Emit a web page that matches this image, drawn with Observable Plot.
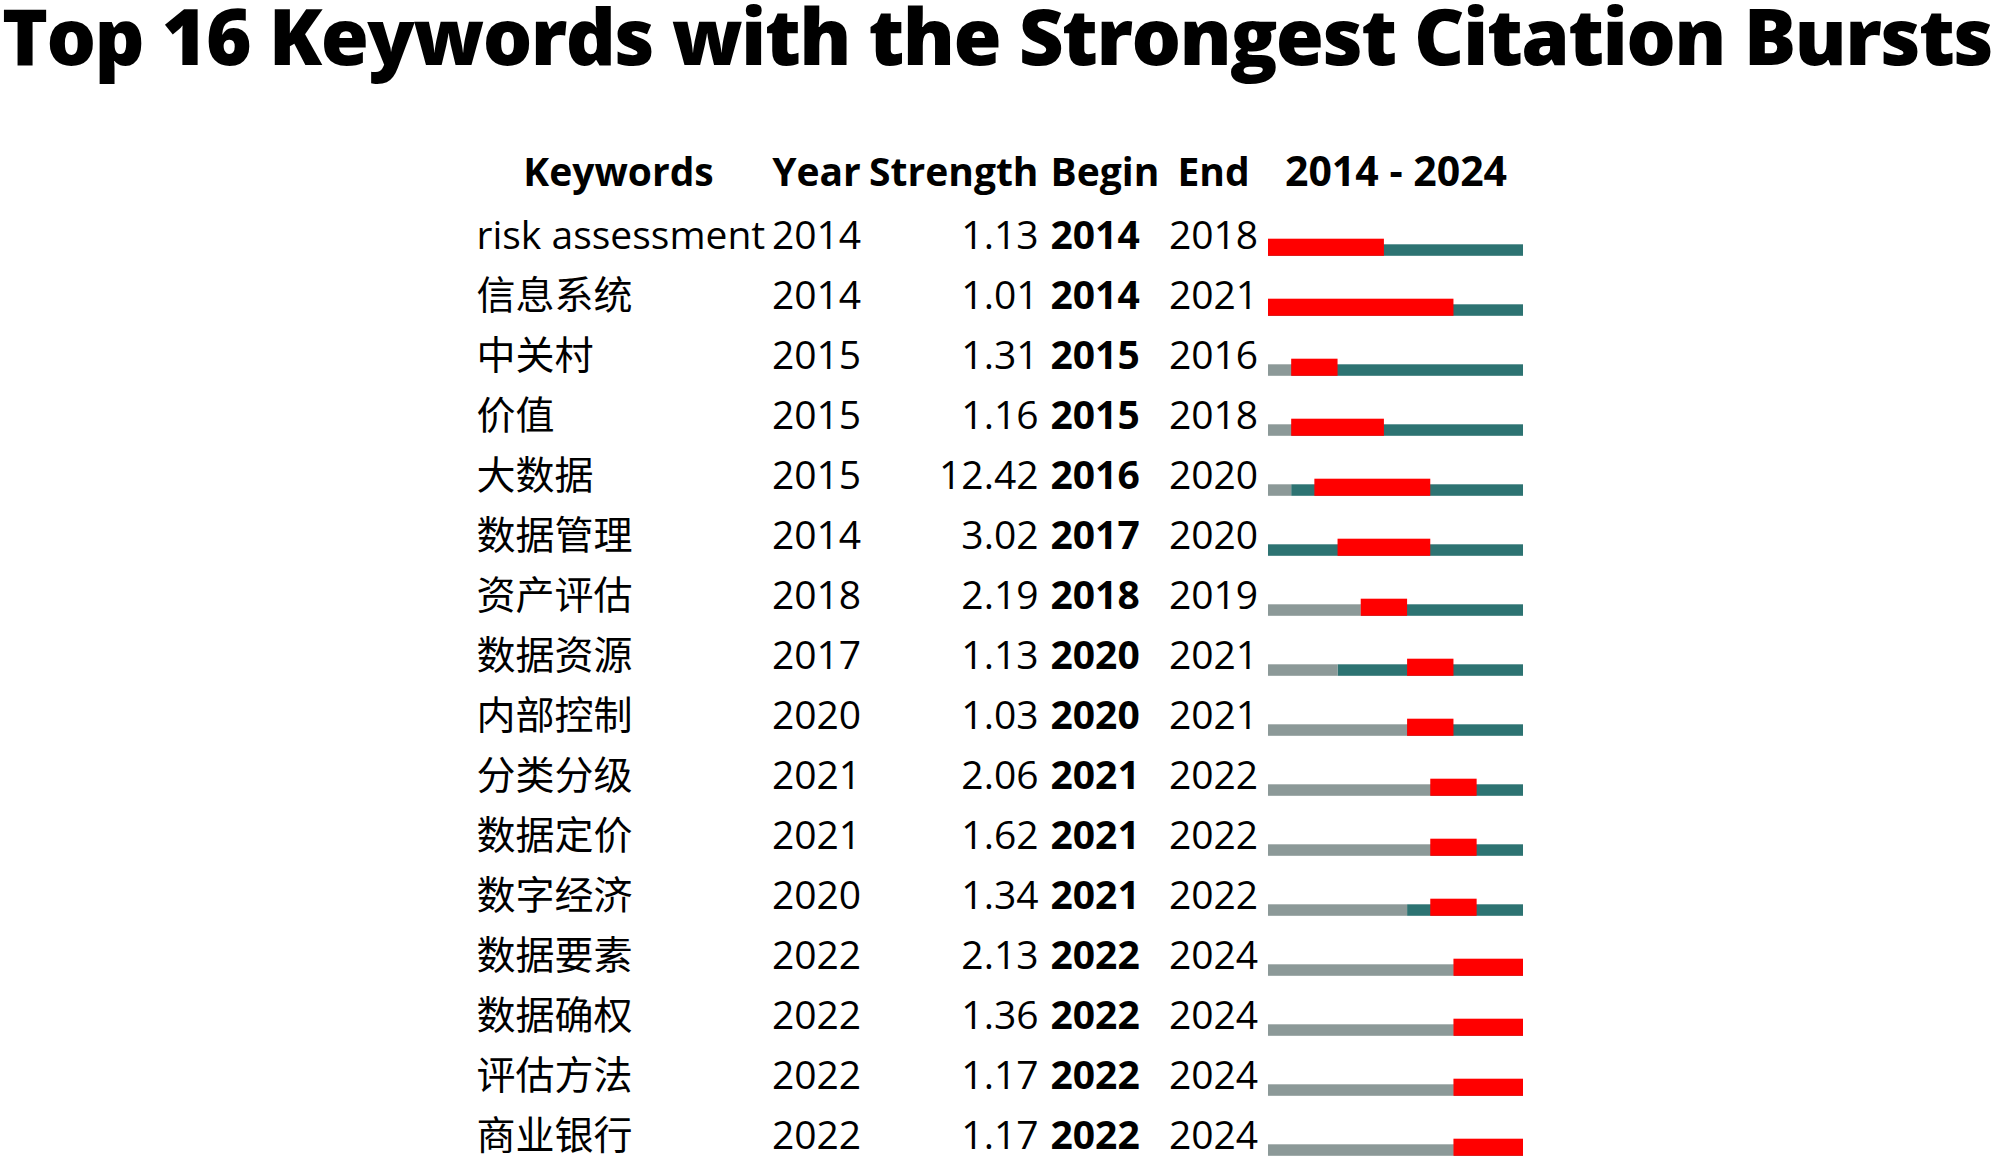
<!DOCTYPE html>
<html><head><meta charset="utf-8">
<script src="https://cdn.jsdelivr.net/npm/d3@7"></script>
<script src="https://cdn.jsdelivr.net/npm/@observablehq/plot@0.6"></script>
<style>
body{margin:0;background:#fff;width:2000px;height:1168px;overflow:hidden}
#title{position:relative;height:100px;width:2000px;overflow:visible}
#title span{position:absolute;left:2px;top:0;font-weight:800;font-size:78px;font-family:"Open Sans","Noto Sans",sans-serif;line-height:71px;white-space:nowrap;color:#000}
</style></head><body>
<div id="title"><span id="tt">Top 16 Keywords with the Strongest Citation Bursts</span></div>
<div id="chart"></div>
<script>
const keywords = ["risk assessment","信息系统","中关村","价值","大数据","数据管理","资产评估","数据资源","内部控制","分类分级","数据定价","数字经济","数据要素","数据确权","评估方法","商业银行"];
const years = [2014,2014,2015,2015,2015,2014,2018,2017,2020,2021,2021,2020,2022,2022,2022,2022];
const strengths = [1.13,1.01,1.31,1.16,12.42,3.02,2.19,1.13,1.03,2.06,1.62,1.34,2.13,1.36,1.17,1.17];
const begins = [2014,2014,2015,2015,2016,2017,2018,2020,2020,2021,2021,2021,2022,2022,2022,2022];
const ends = [2018,2021,2016,2018,2020,2020,2019,2021,2021,2022,2022,2022,2024,2024,2024,2024];
const firstYear = 2014, lastYear = 2024;
const headers = ["Keywords","Year","Strength","Begin","End"];
const rangeLabel = `${firstYear} - ${lastYear}`;

const RED = "#FF0000", TEAL = "#2D7372", GREY = "#8C9998";
const FONT = '"Open Sans","Noto Sans CJK SC",sans-serif';
const FS = 39;

// title fit: tighten letter spacing so the line spans the page width
const tt = document.getElementById("tt");
const w = tt.getBoundingClientRect().width;
const n = tt.textContent.length;
tt.style.letterSpacing = `${(1990 - w) / n}px`;

const rows = keywords.map((k, i) => ({keyword: k, year: years[i], strength: strengths[i], begin: begins[i], end: ends[i]}));
const greySeg = rows.filter(r => r.year > firstYear).map(r => ({keyword: r.keyword, x1: firstYear, x2: r.year}));
const tealSeg = rows.map(r => ({keyword: r.keyword, x1: r.year, x2: lastYear + 1}));
const redSeg = rows.map(r => ({keyword: r.keyword, x1: r.begin, x2: r.end + 1}));

const colText = (opts) => Plot.text(rows, {y: "keyword", frameAnchor: "left", lineAnchor: "middle", fontSize: FS, fill: "#000", ...opts});
const headText = (label, opts) => Plot.text([label], {text: d => d, frameAnchor: "top-left", lineAnchor: "bottom", dy: -19, fontSize: FS, fontWeight: "bold", fill: "#000", ...opts});

const chart = Plot.plot({
  width: 2000, height: 1068,
  marginLeft: 1268, marginRight: 477, marginTop: 104, marginBottom: 0.8,
  x: {domain: [firstYear, lastYear + 1], axis: null},
  y: {domain: keywords, axis: null, padding: 0},
  style: {fontFamily: FONT, fontSize: FS + "px", color: "#000", background: "#fff", overflow: "visible"},
  marks: [
    Plot.barX(tealSeg, {y: "keyword", x1: "x1", x2: "x2", fill: TEAL, insetTop: 38.3, insetBottom: 10.2}),
    Plot.barX(greySeg, {y: "keyword", x1: "x1", x2: "x2", fill: GREY, insetTop: 38.3, insetBottom: 10.2}),
    Plot.barX(redSeg, {y: "keyword", x1: "x1", x2: "x2", fill: RED, insetTop: 32.7, insetBottom: 10.2}),
    colText({text: "keyword", dx: -792, textAnchor: "start"}),
    colText({text: d => String(d.year), dx: -452, textAnchor: "middle"}),
    colText({text: d => d.strength.toFixed(2), dx: -230, textAnchor: "end"}),
    colText({text: d => String(d.begin), dx: -218, textAnchor: "start", fontWeight: "bold"}),
    colText({text: d => String(d.end), dx: -55, textAnchor: "middle"}),
    headText(headers[0], {dx: -650, textAnchor: "middle"}),
    headText(headers[1], {dx: -452, textAnchor: "middle"}),
    headText(headers[2], {dx: -230, textAnchor: "end"}),
    headText(headers[3], {dx: -218, textAnchor: "start"}),
    headText(headers[4], {dx: -55, textAnchor: "middle"}),
    Plot.text([rangeLabel], {text: d => d, frameAnchor: "top", lineAnchor: "bottom", dy: -19, fontSize: 41, fontWeight: "bold", fill: "#000", textAnchor: "middle"})
  ]
});
document.getElementById("chart").appendChild(chart);
</script>
</body></html>
